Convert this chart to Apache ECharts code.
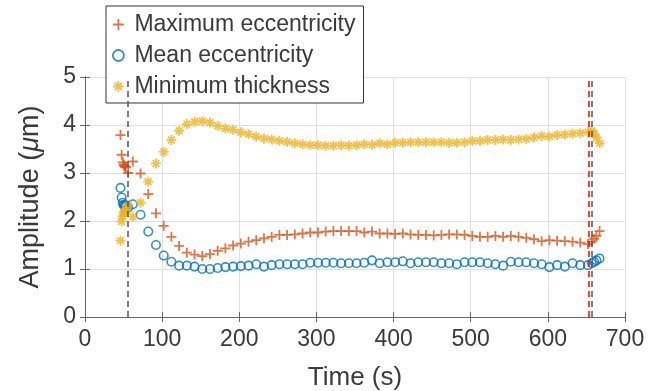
<!DOCTYPE html>
<html>
<head>
<meta charset="utf-8">
<script src="https://cdn.jsdelivr.net/npm/echarts@6/dist/echarts.min.js"></script>
<style>
  html, body { margin: 0; padding: 0; background: #fff; }
  #chart { width: 661px; height: 391px; }
</style>
</head>
<body>
<div id="chart"></div>
<script>
// sample times (s)
var times = [46, 47.5, 49, 50, 51, 52, 53, 56,
  62, 72, 82, 92, 102, 112, 122, 132, 142, 152,
  162, 172, 182, 192, 202, 212, 222, 232, 242, 252,
  262, 272, 282, 292, 302, 312, 322, 332, 342, 352,
  362, 372, 382, 392, 402, 412, 422, 432, 442, 452,
  462, 472, 482, 492, 502, 512, 522, 532, 542, 552,
  562, 572, 582, 592, 602, 612, 622, 632, 642, 652,
  657, 660, 663, 667];

var maxEcc = [3.79, 3.38, 3.22, 3.17, 3.15, 3.13, 3.12, 3.00,
  3.24, 2.99, 2.56, 2.16, 1.90, 1.67, 1.48, 1.34, 1.30, 1.27,
  1.31, 1.38, 1.43, 1.49, 1.53, 1.57, 1.60, 1.64, 1.67, 1.71,
  1.71, 1.72, 1.74, 1.76, 1.76, 1.78, 1.79, 1.79, 1.79, 1.79,
  1.76, 1.78, 1.74, 1.74, 1.73, 1.74, 1.72, 1.71, 1.71, 1.70,
  1.71, 1.72, 1.72, 1.71, 1.69, 1.67, 1.67, 1.69, 1.67, 1.69,
  1.67, 1.65, 1.62, 1.58, 1.60, 1.59, 1.58, 1.57, 1.55, 1.52,
  1.57, 1.63, 1.69, 1.79];

var meanEcc = [2.69, 2.49, 2.38, 2.34, 2.32, 2.31, 2.30, 2.28,
  2.35, 2.13, 1.78, 1.50, 1.28, 1.15, 1.07, 1.07, 1.05, 1.00,
  1.00, 1.02, 1.04, 1.05, 1.06, 1.07, 1.10, 1.05, 1.08, 1.10,
  1.10, 1.10, 1.10, 1.13, 1.13, 1.13, 1.13, 1.12, 1.12, 1.12,
  1.13, 1.18, 1.12, 1.14, 1.14, 1.16, 1.12, 1.14, 1.14, 1.14,
  1.12, 1.12, 1.10, 1.14, 1.14, 1.14, 1.12, 1.10, 1.07, 1.15,
  1.14, 1.14, 1.12, 1.10, 1.04, 1.08, 1.05, 1.12, 1.08, 1.08,
  1.12, 1.15, 1.18, 1.22];

var minThick = [1.59, 1.99, 2.10, 2.16, 2.19, 2.21, 2.24, 2.33,
  2.09, 2.38, 2.82, 3.20, 3.44, 3.69, 3.88, 4.02, 4.07, 4.08,
  4.05, 3.98, 3.93, 3.90, 3.85, 3.81, 3.76, 3.72, 3.70, 3.67,
  3.65, 3.62, 3.60, 3.58, 3.58, 3.57, 3.57, 3.58, 3.57, 3.58,
  3.60, 3.59, 3.62, 3.60, 3.63, 3.63, 3.64, 3.64, 3.64, 3.64,
  3.64, 3.63, 3.63, 3.64, 3.67, 3.67, 3.69, 3.69, 3.70, 3.69,
  3.70, 3.71, 3.74, 3.77, 3.76, 3.79, 3.80, 3.82, 3.83, 3.85,
  3.88, 3.82, 3.74, 3.62];

var xTicks = [0, 100, 200, 300, 400, 500, 600, 700];
var yTicks = [0, 1, 2, 3, 4, 5];
var grayLines = [56, 657.5];
var redLines = [653.5];

var font = '"Liberation Sans", Arial, Helvetica, sans-serif';
var txt = '#3a3a3a';
var plusPath = 'path://M5,0L5,10M0,5L10,5';
var starPath = 'path://M5,0L5,10M0,5L10,5M1.6,1.6L8.4,8.4M1.6,8.4L8.4,1.6';

function pairs(vals) {
  return times.map(function (t, i) { return [t, vals[i]]; });
}

var markLines = grayLines.map(function (x) {
  return { xAxis: x, lineStyle: { color: '#555' } };
}).concat(redLines.map(function (x) {
  return { xAxis: x, lineStyle: { color: '#ff0000' } };
}));

var chart = echarts.init(document.getElementById('chart'));

var baseX = {
  type: 'value', min: xTicks[0], max: xTicks[xTicks.length - 1], interval: 100
};
var baseY = {
  type: 'value', min: yTicks[0], max: yTicks[yTicks.length - 1], interval: 1
};

chart.setOption({
  animation: false,
  backgroundColor: '#fff',
  grid: { left: 85, right: 36, top: 77, bottom: 74, outerBoundsMode: 'none' },
  legend: {
    orient: 'vertical',
    left: 106,
    top: 6,
    padding: [5, 8, 3, 6],
    itemGap: 4,
    itemWidth: 22,
    itemHeight: 11,
    borderColor: '#333',
    borderWidth: 1,
    backgroundColor: '#fff',
    itemStyle: { borderWidth: 1.8 },
    textStyle: { fontFamily: font, fontSize: 23, color: txt, lineHeight: 27 },
    data: ['Maximum eccentricity', 'Mean eccentricity', 'Minimum thickness']
  },
  xAxis: [
    Object.assign({}, baseX, {
      position: 'bottom',
      name: 'Time (s)',
      nameLocation: 'middle',
      nameGap: 48,
      nameTextStyle: { fontFamily: font, fontSize: 26, color: txt },
      axisLine: { lineStyle: { color: '#666', width: 1 } },
      axisTick: { inside: true, length: 5, lineStyle: { color: '#666' } },
      axisLabel: { fontFamily: font, fontSize: 23, color: txt, margin: 11 },
      splitLine: { show: true, lineStyle: { color: '#e0e0e0', width: 1 } }
    }),
    Object.assign({}, baseX, {
      position: 'top',
      axisLine: { lineStyle: { color: '#666', width: 1 } },
      axisTick: { inside: true, length: 5, lineStyle: { color: '#666' } },
      axisLabel: { show: false },
      splitLine: { show: false }
    })
  ],
  yAxis: [
    Object.assign({}, baseY, {
      position: 'left',
      name: 'Amplitude ({m|μ}m)',
      nameLocation: 'middle',
      nameGap: 41,
      nameTextStyle: {
        fontFamily: font, fontSize: 27, color: txt,
        rich: { m: { fontFamily: font, fontSize: 27, color: txt, fontStyle: 'italic' } }
      },
      axisLine: { show: true, lineStyle: { color: '#666', width: 1 } },
      axisTick: { show: true, inside: true, length: 5, lineStyle: { color: '#666' } },
      axisLabel: { fontFamily: font, fontSize: 23, color: txt, margin: 9 },
      splitLine: { show: true, lineStyle: { color: '#e0e0e0', width: 1 } }
    }),
    Object.assign({}, baseY, {
      position: 'right',
      axisLine: { show: true, lineStyle: { color: '#666', width: 1 } },
      axisTick: { show: true, inside: true, length: 5, lineStyle: { color: '#666' } },
      axisLabel: { show: false },
      splitLine: { show: false }
    })
  ],
  series: [
    {
      name: 'Maximum eccentricity',
      type: 'scatter',
      symbol: plusPath,
      symbolSize: 10,
      itemStyle: { color: 'rgba(0,0,0,0)', borderColor: '#D95319', borderWidth: 1.8 },
      data: pairs(maxEcc)
    },
    {
      name: 'Mean eccentricity',
      type: 'scatter',
      symbol: 'circle',
      symbolSize: 8.5,
      itemStyle: { color: 'rgba(0,0,0,0)', borderColor: '#0072BD', borderWidth: 1.6 },
      data: pairs(meanEcc)
    },
    {
      name: 'Minimum thickness',
      type: 'scatter',
      symbol: starPath,
      symbolSize: 10,
      itemStyle: { color: 'rgba(0,0,0,0)', borderColor: '#EDB120', borderWidth: 1.8 },
      data: pairs(minThick),
      markLine: {
        silent: true,
        symbol: ['none', 'none'],
        label: { show: false },
        lineStyle: { type: [6, 4], width: 1.5 },
        data: markLines
      }
    }
  ]
});
</script>
</body>
</html>
